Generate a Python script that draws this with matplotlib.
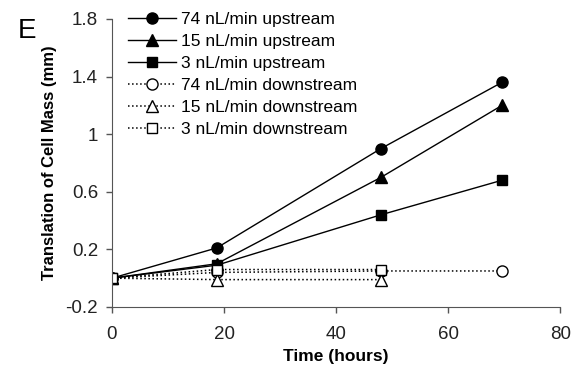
import matplotlib
matplotlib.use("Agg")
import matplotlib.pyplot as plt

plt.rcParams['font.family'] = ['Liberation Sans', 'DejaVu Sans']

# time points (hours)
t_full = [0, 18.7, 48, 69.6]
t_short = [0, 18.7, 48]

# translation of cell mass (mm)
up_74 = [0, 0.21, 0.90, 1.36]
up_15 = [0, 0.10, 0.70, 1.20]
up_3 = [0, 0.09, 0.44, 0.68]
down_74 = [0, 0.04, 0.05, 0.05]
down_15 = [0, -0.01, -0.01]
down_3 = [0, 0.06, 0.06]

labels = ["74 nL/min upstream", "15 nL/min upstream", "3 nL/min upstream",
          "74 nL/min downstream", "15 nL/min downstream", "3 nL/min downstream"]

fig = plt.figure(figsize=(5.8, 3.65), dpi=100)
ax = fig.add_axes([0.193, 0.159, 0.773, 0.789])

ms = 8
ax.plot(t_full, up_74, '-', color='black', lw=1, marker='o', ms=ms, label=labels[0])
ax.plot(t_full, up_15, '-', color='black', lw=1, marker='^', ms=ms, label=labels[1])
ax.plot(t_full, up_3, '-', color='black', lw=1, marker='s', ms=ms - 0.5, label=labels[2])
ax.plot(t_full, down_74, ':', color='black', lw=1.1, marker='o', ms=ms, mfc='white', label=labels[3])
ax.plot(t_short, down_15, ':', color='black', lw=1.1, marker='^', ms=ms, mfc='white', label=labels[4])
ax.plot(t_short, down_3, ':', color='black', lw=1.1, marker='s', ms=ms - 0.5, mfc='white', label=labels[5])

ax.set_xlim(0, 80)
ax.set_ylim(-0.2, 1.8)
ax.set_xticks([0, 20, 40, 60, 80])
ax.set_yticks([-0.2, 0.2, 0.6, 1.0, 1.4, 1.8])
ax.set_yticklabels(["-0.2", "0.2", "0.6", "1", "1.4", "1.8"])
ax.tick_params(labelsize=13.5, direction='out', length=4, color='#555555', width=1,
               labelcolor='#222222')
ax.tick_params(axis='x', pad=10)
ax.tick_params(axis='y', pad=6)
for s in ['top', 'right']:
    ax.spines[s].set_visible(False)
for s in ['left', 'bottom']:
    ax.spines[s].set_color('#555555')
ax.set_xlabel("Time (hours)", fontsize=12.5, fontweight='bold', labelpad=4)
ax.set_ylabel("Translation of Cell Mass (mm)", fontsize=12, fontweight='bold', labelpad=6)

ax.legend(loc='upper left', bbox_to_anchor=(0.02, 1.05), frameon=False, fontsize=12.5,
          labelspacing=0.4, handlelength=2.8, handletextpad=0.25, borderaxespad=0)

fig.text(0.03, 0.895, "E", fontsize=20)

fig.savefig("out.png", dpi=100)
